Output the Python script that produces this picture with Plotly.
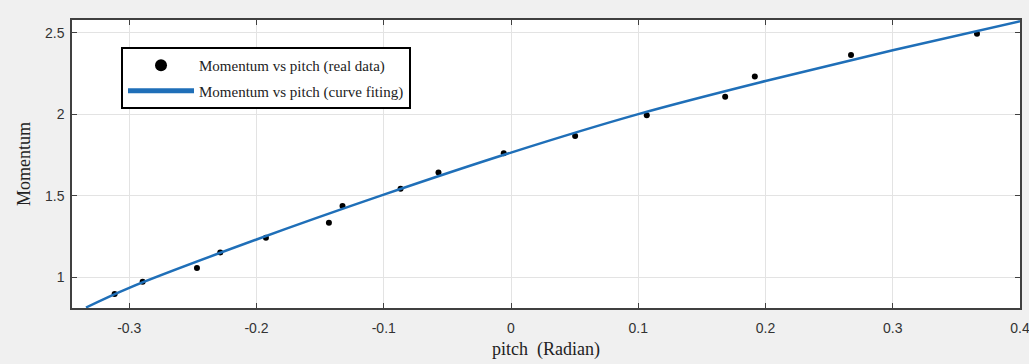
import plotly.graph_objects as go

# Real data points
pitch_real = [-0.3115, -0.2895, -0.2468, -0.2285, -0.1926, -0.1431, -0.1324, -0.0868,
              -0.0570, -0.0057, 0.0504, 0.1067, 0.1683, 0.1916, 0.2672, 0.3662]
momentum_real = [0.898, 0.973, 1.057, 1.153, 1.243, 1.334, 1.437, 1.543,
                 1.643, 1.761, 1.867, 1.994, 2.108, 2.231, 2.364, 2.494]

# Fitted curve samples
pitch_fit = [-0.334, -0.3, -0.2, -0.1, 0.0, 0.1, 0.2, 0.3, 0.4]
momentum_fit = [0.815, 0.936, 1.232, 1.507, 1.765, 2.001, 2.204, 2.392, 2.570]

x_ticks = [-0.3, -0.2, -0.1, 0, 0.1, 0.2, 0.3, 0.4]
x_tick_labels = ["-0.3", "-0.2", "-0.1", "0", "0.1", "0.2", "0.3", "0.4"]
y_ticks = [1, 1.5, 2, 2.5]
y_tick_labels = ["1", "1.5", "2", "2.5"]

fig = go.Figure()
fig.add_trace(go.Scatter(
    x=pitch_real, y=momentum_real, mode="markers",
    name="Momentum vs pitch (real data)", legendgroup="a",
    marker=dict(color="black", size=6),
))
fig.add_trace(go.Scatter(
    x=pitch_fit, y=momentum_fit, mode="lines",
    name="Momentum vs pitch (curve fiting)", legendgroup="b",
    line=dict(color="#1f6fb8", width=2.5, shape="spline", smoothing=1.0),
))

axis_common = dict(
    showgrid=True, gridcolor="#e3e3e3", gridwidth=1,
    showline=True, linecolor="#404040", linewidth=1.5, mirror="ticks",
    ticks="inside", ticklen=5, tickcolor="#404040", tickwidth=1,
    tickfont=dict(family="Liberation Sans, Arial, sans-serif", size=14, color="#333333"),
    zeroline=False, automargin=False, ticklabeloverflow="allow",
)

fig.update_layout(
    width=1029, height=364,
    margin=dict(l=72, r=9, t=20, b=56),
    paper_bgcolor="#f0f0f0", plot_bgcolor="white",
    xaxis=dict(range=[-0.345, 0.4], tickvals=x_ticks, ticktext=x_tick_labels,
               ticklabelstandoff=6,
               title=dict(text="pitch  (Radian)", standoff=8,
                          font=dict(family="Liberation Serif, Times New Roman, serif", size=18, color="#222222")),
               **axis_common),
    yaxis=dict(range=[0.812, 2.578], tickvals=y_ticks, ticktext=y_tick_labels,
               ticklabelstandoff=3,
               title=dict(text="Momentum", standoff=10,
                          font=dict(family="Liberation Serif, Times New Roman, serif", size=18, color="#222222")),
               **axis_common),
    legend=dict(
        x=0.0517, y=0.906, xanchor="left", yanchor="top",
        bgcolor="white", bordercolor="black", borderwidth=2,
        font=dict(family="Liberation Serif, Times New Roman, serif", size=15, color="#222222"),
        itemwidth=66, itemsizing="constant", tracegroupgap=3,
    ),
    showlegend=True,
)

fig.write_html("out.html")
